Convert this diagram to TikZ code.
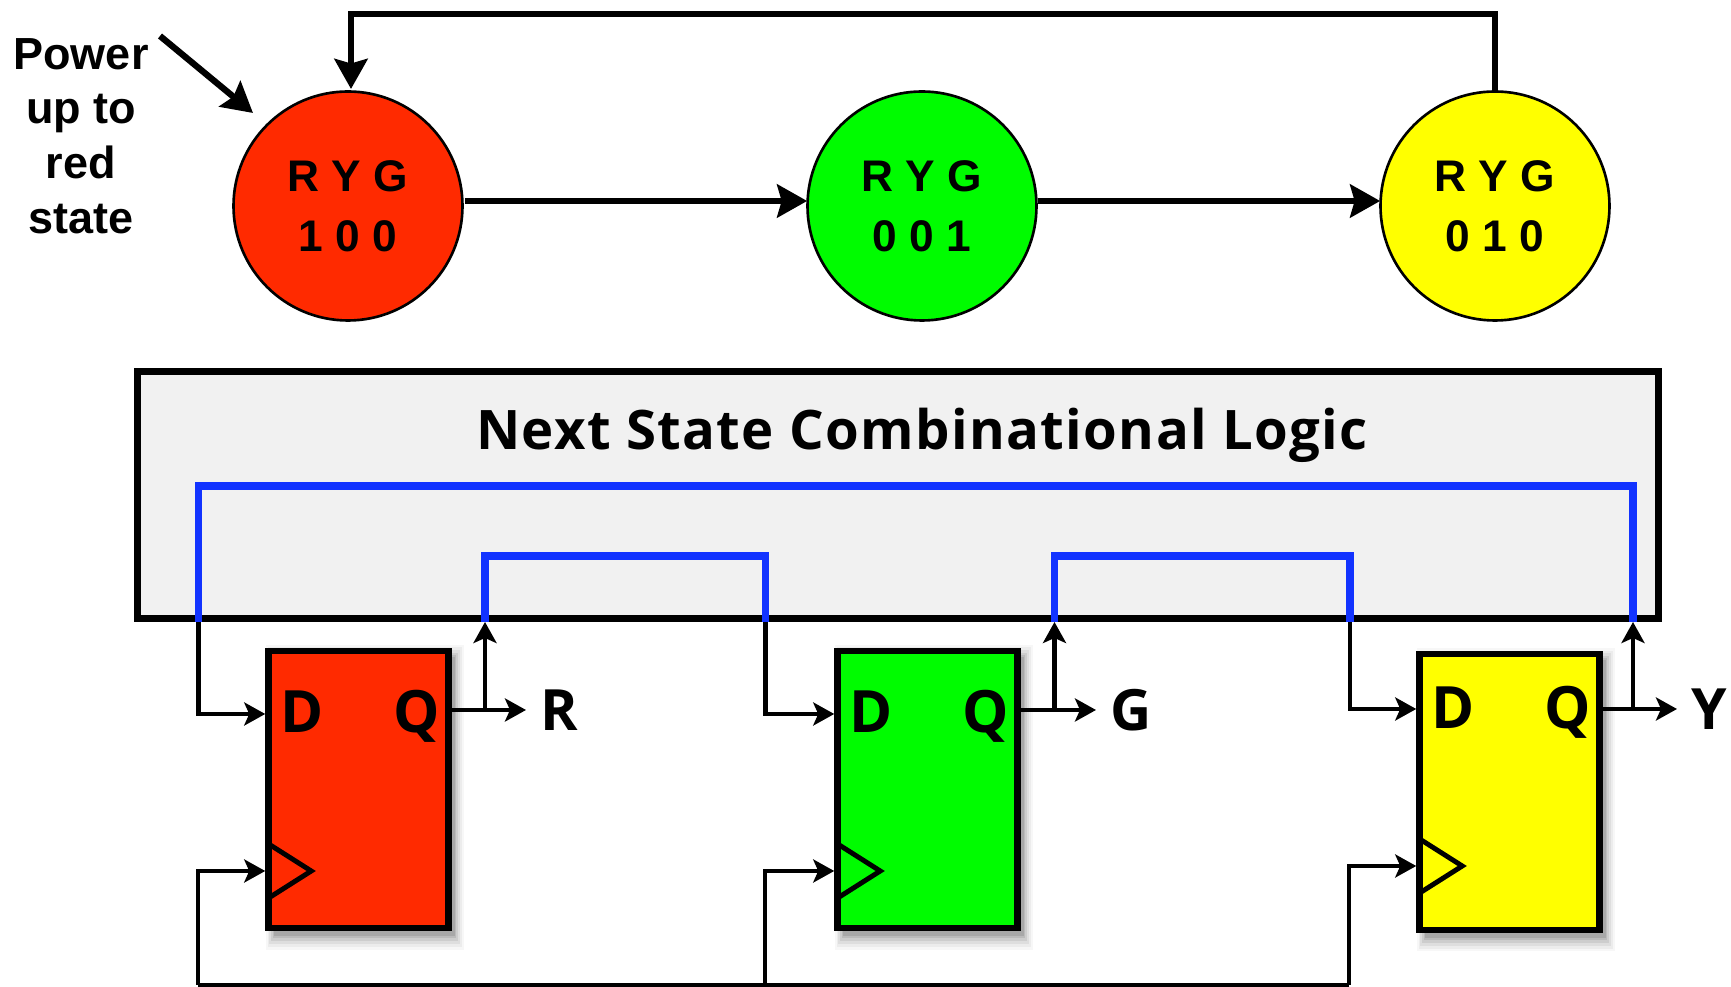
\documentclass[tikz,border=0pt]{standalone}
\usepackage{fontspec}
\setmainfont{Liberation Sans}
\newfontfamily\blockfont{Open Sans}
\newfontfamily\titlefont[LetterSpace=2.5]{Open Sans}
\usetikzlibrary{arrows.meta,calc,shadows}

\definecolor{statered}{HTML}{FF2A00}
\definecolor{stategreen}{HTML}{00FC00}
\definecolor{stateyellow}{HTML}{FFFF00}
\definecolor{busblue}{HTML}{1233FF}
\definecolor{logicgray}{HTML}{F1F1F1}

\tikzset{
  statenode/.style={circle,draw=black,line width=0.75pt,minimum size=2.29cm,inner sep=0pt,
    align=center,font=\bfseries\fontsize{12.6}{17.2}\selectfont},
  ffblock/.style={rectangle,draw=black,line width=1.85pt,minimum width=1.8cm,inner sep=0pt,
    general shadow={shadow xshift=.06cm,shadow yshift=-.07cm,shadow scale=1.1,fill=black,opacity=.03},
    general shadow={shadow xshift=.06cm,shadow yshift=-.07cm,shadow scale=1.08,fill=black,opacity=.045},
    general shadow={shadow xshift=.06cm,shadow yshift=-.07cm,shadow scale=1.06,fill=black,opacity=.06},
    general shadow={shadow xshift=.06cm,shadow yshift=-.07cm,shadow scale=1.04,fill=black,opacity=.075},
    general shadow={shadow xshift=.06cm,shadow yshift=-.07cm,shadow scale=1.02,fill=black,opacity=.09},
    general shadow={shadow xshift=.06cm,shadow yshift=-.07cm,shadow scale=1.005,fill=black,opacity=.1}},
  pinlabel/.style={inner sep=0pt,font=\blockfont\bfseries\fontsize{16.6}{18}\selectfont},
  outlabel/.style={inner sep=.14cm,anchor=west,font=\blockfont\bfseries\fontsize{16.2}{18}\selectfont},
  bigarrow/.style={line width=1.8pt,-{Stealth[length=.3cm,width=.33cm,inset=.045cm]}},
  wire/.style={line width=1.15pt,-{Stealth[length=.21cm,width=.23cm,inset=.05cm]}},
  busline/.style={line width=2.05pt,color=busblue},
  clktri/.style={line width=1.4pt,line join=miter}
}

\begin{document}
\begin{tikzpicture}
    \useasboundingbox (0,0) rectangle (17.31,9.87);
    % state diagram
    \node[statenode,fill=statered] (red) at (3.48,7.81) {R Y G\\1 0 0};
    \node[statenode,fill=stategreen] (green) at (9.22,7.81) {R Y G\\0 0 1};
    \node[statenode,fill=stateyellow] (yellow) at (14.95,7.81) {R Y G\\0 1 0};
    \coordinate (lineab) at (6,7.86);
    \draw[bigarrow,shorten <=.01cm,shorten >=-.01cm] (red.east |- lineab) to (green.west |- lineab);
    \draw[bigarrow,shorten >=-.01cm] (green.east |- lineab) to (yellow.west |- lineab);
    \coordinate (looptop) at (9.22,9.73);
    \coordinate (loopend) at (3.51,8.98);
    \draw[bigarrow] (yellow.north) |- (looptop) -| (loopend);
    \node[align=center,inner sep=0pt,font=\bfseries\fontsize{12.8}{15.6}\selectfont] (power)
      at (0.81,8.51) {Power\\up to\\red\\state};
    \coordinate (powerstart) at (1.6,9.51);
    \coordinate (powerend) at (2.53,8.74);
    \draw[bigarrow] (powerstart) to (powerend);
    % next state logic
    \node[rectangle,draw=black,fill=logicgray,line width=1.95pt,minimum width=15.21cm,
      minimum height=2.465cm,inner sep=0pt] (logic) at (8.98,4.92) {};
    \node[anchor=base,inner sep=0pt,font=\titlefont\bfseries\fontsize{15.5}{17}\selectfont] (title)
      at (9.22,5.37) {Next State Combinational Logic};
    \coordinate (tapa) at (1.985,3.65);
    \coordinate (tapb) at (4.85,3.65);
    \coordinate (tapc) at (7.655,3.65);
    \coordinate (tapd) at (10.545,3.65);
    \coordinate (tape) at (13.5,3.65);
    \coordinate (tapf) at (16.33,3.65);
    \coordinate (busatop) at (9,5.01);
    \coordinate (busbtop) at (6,4.31);
    \coordinate (busctop) at (12,4.31);
    \draw[busline] (tapa) |- (busatop) -| (tapf);
    \draw[busline] (tapb) |- (busbtop) -| (tapc);
    \draw[busline] (tapd) |- (busctop) -| (tape);
    % flip flops
    \node[ffblock,fill=statered,minimum height=2.77cm] (ffred) at (3.585,1.975) {};
    \node[ffblock,fill=stategreen,minimum height=2.77cm] (ffgreen) at (9.275,1.975) {};
    \node[ffblock,fill=stateyellow,minimum height=2.76cm] (ffyellow) at (15.095,1.95) {};
    \node[pinlabel,anchor=base] (dred) at (3.02,2.54) {D};
    \node[pinlabel,anchor=base] (qred) at (4.17,2.54) {Q};
    \node[pinlabel,anchor=base] (dgreen) at (8.71,2.54) {D};
    \node[pinlabel,anchor=base] (qgreen) at (9.86,2.54) {Q};
    \node[pinlabel,anchor=base] (dyellow) at (14.53,2.58) {D};
    \node[pinlabel,anchor=base] (qyellow) at (15.68,2.58) {Q};
    \node[outlabel] (labr) at (5.26,2.77) {R};
    \node[outlabel] (labg) at (10.96,2.77) {G};
    \node[outlabel] (laby) at (16.77,2.78) {Y};
    % data and output wires
    \coordinate (inred) at ($(ffred.west)+(0,0.755)$);
    \coordinate (ingreen) at ($(ffgreen.west)+(0,0.755)$);
    \coordinate (inyellow) at ($(ffyellow.west)+(0,0.83)$);
    \draw[wire] (tapa) |- (inred);
    \draw[wire] (tapc) |- (ingreen);
    \draw[wire] (tape) |- (inyellow);
    \draw[wire] (ffred.east |- labr.west) to (labr.west);
    \draw[wire] (ffgreen.east |- labg.west) to (labg.west);
    \draw[wire] (ffyellow.east |- laby.west) to (laby.west);
    \draw[wire] (tapb |- labr.west) to (tapb);
    \draw[wire] (tapd |- labg.west) to (tapd);
    \draw[wire] (tapf |- laby.west) to (tapf);
    % clock
    \coordinate (clkred) at ($(ffred.west)+(0,-0.815)$);
    \coordinate (clkgreen) at ($(ffgreen.west)+(0,-0.815)$);
    \coordinate (clkyellow) at ($(ffyellow.west)+(0,-0.74)$);
    \draw[clktri,shift={(clkred)}] (0.05,0.26) to (0.46,0) to (0.05,-0.26);
    \draw[clktri,shift={(clkgreen)}] (0.05,0.26) to (0.46,0) to (0.05,-0.26);
    \draw[clktri,shift={(clkyellow)}] (0.05,0.26) to (0.46,0) to (0.05,-0.26);
    \coordinate (clkleft) at (1.98,0.02);
    \coordinate (clkmid) at (7.65,0.02);
    \coordinate (clkright) at (13.49,0.02);
    \draw[line width=1.15pt] (clkleft) to (clkright);
    \draw[wire] (clkleft) |- (clkred);
    \draw[wire] (clkmid) |- (clkgreen);
    \draw[wire] (clkright) |- (clkyellow);
  \end{tikzpicture}
\end{document}
